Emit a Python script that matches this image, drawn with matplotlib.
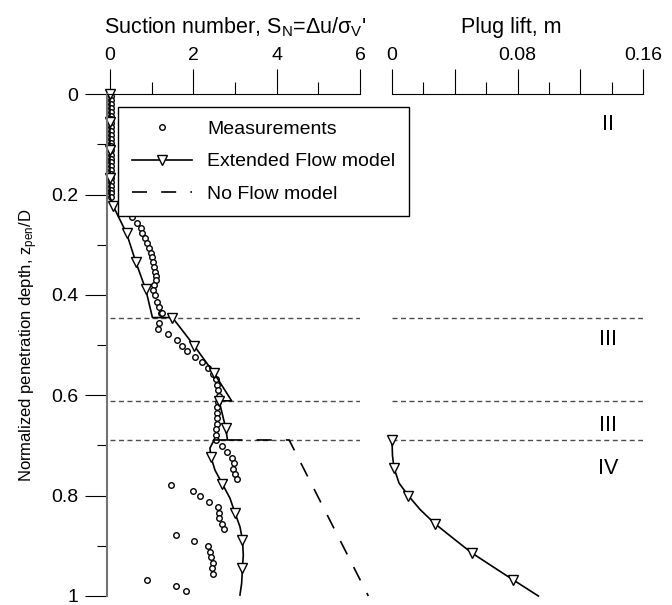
import matplotlib
matplotlib.use('Agg')
import matplotlib.pyplot as plt
from matplotlib.lines import Line2D

plt.rcParams['font.family'] = ['Liberation Sans', 'DejaVu Sans']
plt.rcParams['mathtext.fontset'] = 'custom'
plt.rcParams['mathtext.rm'] = 'Liberation Sans'
plt.rcParams['mathtext.it'] = 'Liberation Sans:italic'
plt.rcParams['font.size'] = 14

# measurements (suction number vs normalized depth)
meas_sn = [0.02, 0.02, 0.02, 0.02, 0.02, 0.02, 0.02, 0.02, 0.02, 0.02,
           0.02, 0.02, 0.02, 0.02, 0.02, 0.02, 0.02, 0.02, 0.02, 0.02,
           0.02, 0.02, 0.02, 0.02, 0.02, 0.02, 0.02,
           0.54, 0.66, 0.74, 0.78, 0.84, 0.90, 0.94, 0.98, 1.01, 1.04,
           1.06, 1.08, 1.10, 1.10, 1.06, 1.04, 1.08, 1.12, 1.17, 1.22,
           1.26, 1.18, 1.16, 1.40, 1.62, 1.74, 1.86, 2.04, 2.22, 2.36,
           2.48, 2.54, 2.58, 2.60, 2.62, 2.60, 2.58, 2.56, 2.56, 2.56,
           2.54, 2.54, 2.54, 2.70, 2.82, 2.94, 2.98, 2.96, 3.00, 3.06,
           1.46, 1.99, 2.17, 2.37, 2.59, 2.61, 2.62, 2.70, 2.74,
           1.58, 2.02, 2.36, 2.40, 2.42, 2.48, 2.46, 2.47,
           0.89, 1.59, 1.82]
meas_z = [0.004, 0.012, 0.019, 0.027, 0.035, 0.043, 0.050, 0.058, 0.066, 0.073,
          0.081, 0.089, 0.097, 0.104, 0.112, 0.120, 0.128, 0.135, 0.143, 0.151,
          0.159, 0.166, 0.174, 0.182, 0.190, 0.197, 0.205,
          0.245, 0.257, 0.267, 0.277, 0.287, 0.297, 0.306, 0.316, 0.325, 0.334,
          0.344, 0.354, 0.362, 0.370, 0.380, 0.391, 0.401, 0.413, 0.423, 0.435,
          0.435, 0.456, 0.468, 0.478, 0.490, 0.501, 0.512, 0.523, 0.534, 0.545,
          0.558, 0.568, 0.579, 0.589, 0.601, 0.613, 0.624, 0.635, 0.646, 0.657,
          0.668, 0.679, 0.689, 0.701, 0.712, 0.724, 0.734, 0.746, 0.757, 0.767,
          0.779, 0.790, 0.801, 0.812, 0.823, 0.834, 0.845, 0.856, 0.867,
          0.878, 0.890, 0.900, 0.912, 0.923, 0.934, 0.945, 0.956,
          0.969, 0.980, 0.991]

# Extended Flow model
ext_sn = [0, 0, 0, 0, 0, 0.08, 0.40, 0.62, 0.86, 1.02, 1.50, 2.02, 2.50,
          2.92, 2.62, 2.78, 2.82, 2.50, 2.40, 2.42, 2.52, 2.70, 2.88, 3.00,
          3.12, 3.18, 3.20, 3.18, 3.16, 3.12]
ext_z = [0, 0.055, 0.111, 0.167, 0.205, 0.223, 0.277, 0.334, 0.389, 0.445,
         0.445, 0.501, 0.556, 0.611, 0.611, 0.666, 0.689, 0.689, 0.705, 0.722,
         0.749, 0.777, 0.805, 0.834, 0.862, 0.888, 0.918, 0.945, 0.975, 0.998]
ext_marks = [0, 1, 2, 3, 5, 6, 7, 8, 10, 11, 12, 14, 15, 19, 21, 23, 25, 27]

# No Flow model
noflow_sn = [2.82, 4.30, 6.20]
noflow_z = [0.689, 0.689, 1.0]

# plug lift (m)
lift_m = [0, 0.0003, 0.0013, 0.0045, 0.0104, 0.018, 0.0274, 0.039, 0.0508,
          0.064, 0.0773, 0.0933]
lift_z = [0.689, 0.720, 0.745, 0.775, 0.800, 0.828, 0.856, 0.885, 0.914,
          0.941, 0.968, 1.0]
lift_marks = [0, 2, 4, 6, 8, 10]

zone_z = [0.445, 0.611, 0.689]
zone_names = ['II', 'III', 'III', 'IV']
zone_name_z = [0.061, 0.489, 0.661, 0.745]

W, H = 672, 605
fig = plt.figure(figsize=(W / 100, H / 100), dpi=100)
ax2 = fig.add_axes([392 / W, 1 - 596 / H, 251 / W, (596 - 94.3) / H])
ax = fig.add_axes([107 / W, 1 - 596 / H, 253 / W, (596 - 94.3) / H])
ax.patch.set_visible(False)
ax2.patch.set_visible(False)

# left panel
ax.hlines(zone_z, 0, 6, colors='0.3', lw=1, linestyles=(0, (3.6, 2.5)))
ax.plot(meas_sn, meas_z, ls='none', marker='o', ms=4, mfc='white', mec='k', mew=1)
ax.plot(ext_sn, ext_z, color='k', lw=1.2, marker='v', ms=7, mfc='white', mec='k',
        mew=1, markevery=ext_marks, clip_on=False)
ax.plot(noflow_sn, noflow_z, color='k', lw=1.2, dashes=(9, 8.5), clip_on=False)

ax.set_xlim(-0.07, 6)
ax.set_ylim(1, 0)
ax.xaxis.tick_top()
ax.xaxis.set_label_position('top')
ax.set_xticks([0, 2, 4, 6])
ax.set_xticklabels(['0', '2', '4', '6'])
ax.set_xticks([1, 3, 5], minor=True)
ax.set_yticks([0, 0.2, 0.4, 0.6, 0.8, 1])
ax.set_yticklabels(['0', '0.2', '0.4', '0.6', '0.8', '1'])
ax.set_yticks([0.1, 0.3, 0.5, 0.7, 0.9], minor=True)
ax.tick_params(axis='x', which='major', length=18, width=0.8, pad=4)
ax.tick_params(axis='x', which='minor', length=8.6, width=0.8)
ax.tick_params(axis='y', which='major', length=15.6, width=0.8, pad=5)
ax.tick_params(axis='y', which='minor', length=7.2, width=0.8)
ax.spines['right'].set_visible(False)
ax.spines['bottom'].set_visible(False)
ax.spines['left'].set_color('0.45')
ax.spines['left'].set_linewidth(1.5)
ax.spines['top'].set_linewidth(0.8)
ax.set_xlabel("Suction number, S$_\\mathrm{N}$=Δu/σ$_\\mathrm{V}$'", fontsize=15.5)
ax.xaxis.set_label_coords(0.506, 1.122)
ax.set_ylabel('Normalized penetration depth, z$_\\mathrm{pen}$/D', labelpad=8,
              fontsize=12)

handles = [Line2D([], [], ls='none', marker='o', ms=4, mfc='white', mec='k', mew=1),
           Line2D([], [], color='k', lw=1.2, marker='v', ms=7, mfc='white', mec='k', mew=1),
           Line2D([], [], color='k', lw=1.2, dashes=(9, 8.5))]
leg = ax.legend(handles, ['Measurements', 'Extended Flow model', 'No Flow model'],
                loc='upper left', bbox_to_anchor=(118 / W, 1 - 107 / H),
                bbox_transform=fig.transFigure, fancybox=False, framealpha=1,
                edgecolor='k', fontsize=14, handlelength=3.1, handletextpad=0.8,
                borderpad=0.7, labelspacing=0.75, borderaxespad=0)
leg.get_frame().set_linewidth(1.0)
leg.set_zorder(5)

# right panel
ax2.hlines(zone_z, 0, 0.16, colors='0.3', lw=1, linestyles=(0, (3.6, 2.5)))
ax2.plot(lift_m, lift_z, color='k', lw=1.2, marker='v', ms=7, mfc='white', mec='k',
         mew=1, markevery=lift_marks, clip_on=False)
for name, z in zip(zone_names, zone_name_z):
    ax2.text(0.138, z, name, ha='center', va='center', fontsize=15.5)

ax2.set_xlim(0, 0.16)
ax2.set_ylim(1, 0)
ax2.xaxis.tick_top()
ax2.xaxis.set_label_position('top')
ax2.set_xticks([0, 0.04, 0.08, 0.12, 0.16])
ax2.set_xticklabels(['0', '', '0.08', '', '0.16'])
ax2.set_xticks([0.02, 0.06, 0.10, 0.14], minor=True)
ax2.set_yticks([])
ax2.tick_params(axis='x', which='major', length=18, width=0.8, pad=4)
ax2.tick_params(axis='x', which='minor', length=8.6, width=0.8)
for s in ['left', 'right', 'bottom']:
    ax2.spines[s].set_visible(False)
ax2.spines['top'].set_linewidth(0.8)
ax2.set_xlabel('Plug lift, m', fontsize=15.5)
ax2.xaxis.set_label_coords(0.475, 1.122)

fig.savefig('out.png', dpi=100)
